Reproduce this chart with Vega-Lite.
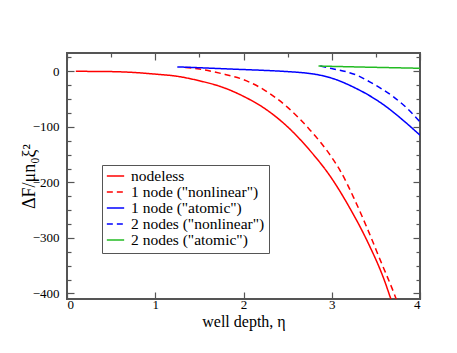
{
  "$schema": "https://vega.github.io/schema/vega-lite/v6.json",
  "width": 353,
  "height": 246,
  "autosize": "none",
  "padding": {"left": 67, "top": 53, "right": 37, "bottom": 54},
  "background": "white",
  "config": {
    "view": {"stroke": "#555555", "strokeWidth": 2},
    "font": "Liberation Serif",
    "axis": {
      "domain": false,
      "grid": false,
      "tickColor": "#555555",
      "tickWidth": 1.2,
      "labelFont": "Liberation Serif",
      "labelFontSize": 13,
      "labelColor": "black",
      "titleFont": "Liberation Serif",
      "titleFontWeight": "normal",
      "titleColor": "black"
    },
    "legend": {"rowPadding": -3, "clipHeight": 14}
  },
  "datasets": {
    "curves": [
      {"series": "nodeless", "eta": 0.1, "F": 0},
      {"series": "nodeless", "eta": 0.5, "F": -0.5},
      {"series": "nodeless", "eta": 0.75, "F": -2},
      {"series": "nodeless", "eta": 1.0, "F": -5},
      {"series": "nodeless", "eta": 1.25, "F": -9},
      {"series": "nodeless", "eta": 1.5, "F": -17},
      {"series": "nodeless", "eta": 1.75, "F": -28},
      {"series": "nodeless", "eta": 2.0, "F": -45},
      {"series": "nodeless", "eta": 2.25, "F": -68},
      {"series": "nodeless", "eta": 2.5, "F": -100},
      {"series": "nodeless", "eta": 2.75, "F": -142},
      {"series": "nodeless", "eta": 3.0, "F": -193},
      {"series": "nodeless", "eta": 3.2, "F": -245},
      {"series": "nodeless", "eta": 3.4, "F": -305},
      {"series": "nodeless", "eta": 3.6, "F": -378},
      {"series": "nodeless", "eta": 3.67, "F": -410},
      {"series": "nodeless", "eta": 3.72, "F": -432},
      {"series": "1 node (\"nonlinear\")", "eta": 1.34, "F": 7},
      {"series": "1 node (\"nonlinear\")", "eta": 1.5, "F": 4},
      {"series": "1 node (\"nonlinear\")", "eta": 1.75, "F": -4},
      {"series": "1 node (\"nonlinear\")", "eta": 2.0, "F": -15},
      {"series": "1 node (\"nonlinear\")", "eta": 2.25, "F": -35},
      {"series": "1 node (\"nonlinear\")", "eta": 2.5, "F": -65},
      {"series": "1 node (\"nonlinear\")", "eta": 2.75, "F": -105},
      {"series": "1 node (\"nonlinear\")", "eta": 3.0, "F": -155},
      {"series": "1 node (\"nonlinear\")", "eta": 3.1, "F": -180},
      {"series": "1 node (\"nonlinear\")", "eta": 3.25, "F": -228},
      {"series": "1 node (\"nonlinear\")", "eta": 3.4, "F": -282},
      {"series": "1 node (\"nonlinear\")", "eta": 3.55, "F": -340},
      {"series": "1 node (\"nonlinear\")", "eta": 3.73, "F": -410},
      {"series": "1 node (\"nonlinear\")", "eta": 3.78, "F": -432},
      {"series": "1 node (\"atomic\")", "eta": 1.25, "F": 8},
      {"series": "1 node (\"atomic\")", "eta": 1.5, "F": 6.5},
      {"series": "1 node (\"atomic\")", "eta": 1.75, "F": 4.8},
      {"series": "1 node (\"atomic\")", "eta": 2.0, "F": 3.2},
      {"series": "1 node (\"atomic\")", "eta": 2.25, "F": 1.6},
      {"series": "1 node (\"atomic\")", "eta": 2.5, "F": -0.5},
      {"series": "1 node (\"atomic\")", "eta": 2.7, "F": -3},
      {"series": "1 node (\"atomic\")", "eta": 2.87, "F": -7},
      {"series": "1 node (\"atomic\")", "eta": 3.05, "F": -15},
      {"series": "1 node (\"atomic\")", "eta": 3.24, "F": -28},
      {"series": "1 node (\"atomic\")", "eta": 3.43, "F": -44},
      {"series": "1 node (\"atomic\")", "eta": 3.62, "F": -64},
      {"series": "1 node (\"atomic\")", "eta": 3.8, "F": -87},
      {"series": "1 node (\"atomic\")", "eta": 4.0, "F": -115},
      {"series": "2 nodes (\"nonlinear\")", "eta": 2.87, "F": 9.5},
      {"series": "2 nodes (\"nonlinear\")", "eta": 3.0, "F": 5},
      {"series": "2 nodes (\"nonlinear\")", "eta": 3.17, "F": -1},
      {"series": "2 nodes (\"nonlinear\")", "eta": 3.3, "F": -8},
      {"series": "2 nodes (\"nonlinear\")", "eta": 3.43, "F": -19},
      {"series": "2 nodes (\"nonlinear\")", "eta": 3.56, "F": -31},
      {"series": "2 nodes (\"nonlinear\")", "eta": 3.7, "F": -46},
      {"series": "2 nodes (\"nonlinear\")", "eta": 3.85, "F": -66},
      {"series": "2 nodes (\"nonlinear\")", "eta": 4.0, "F": -91},
      {"series": "2 nodes (\"atomic\")", "eta": 2.85, "F": 9.5},
      {"series": "2 nodes (\"atomic\")", "eta": 3.4, "F": 7.5},
      {"series": "2 nodes (\"atomic\")", "eta": 4.0, "F": 5.5}
    ]
  },
  "resolve": {"axis": {"x": "independent", "y": "independent"}},
  "layer": [
    {
      "mark": {"type": "rule", "color": "black", "strokeWidth": 1},
      "encoding": {
        "x": {"datum": 0, "type": "quantitative", "scale": {"domain": [0, 4], "nice": false},
          "axis": {"orient": "top", "labels": false, "title": null,
            "values": [0, 0.5, 1, 1.5, 2, 2.5, 3, 3.5, 4],
            "tickSize": {"condition": {"test": "datum.value % 1 === 0", "value": -7}, "value": -4}}},
        "x2": {"datum": 4},
        "y": {"datum": 0, "type": "quantitative", "scale": {"domain": [-410, 33], "nice": false, "zero": false},
          "axis": {"orient": "right", "labels": false, "title": null,
            "values": [-400, -375, -350, -325, -300, -275, -250, -225, -200, -175, -150, -125, -100, -75, -50, -25, 0, 25],
            "tickSize": {"condition": {"test": "datum.value % 100 === 0", "value": -7}, "value": -4}}}
      }
    },
    {
      "data": {"name": "curves"},
      "mark": {"type": "line", "strokeWidth": 1.5, "clip": true, "interpolate": "monotone"},
      "encoding": {
        "x": {"field": "eta", "type": "quantitative", "scale": {"domain": [0, 4], "nice": false},
          "axis": {"orient": "bottom", "title": "well depth, η", "titleFontSize": 16,
            "titleBaseline": "alphabetic", "titleY": 27,
            "values": [0, 0.5, 1, 1.5, 2, 2.5, 3, 3.5, 4],
            "format": "d",
            "labelExpr": "datum.value % 1 === 0 ? datum.label : ''",
            "labelPadding": 6,
            "tickSize": {"condition": {"test": "datum.value % 1 === 0", "value": -7}, "value": -4}}},
        "y": {"field": "F", "type": "quantitative", "scale": {"domain": [-410, 33], "nice": false, "zero": false},
          "axis": {"orient": "left", "title": "ΔF/μn₀ξ²", "titleFontSize": 18,
            "titleAngle": -90, "titleBaseline": "alphabetic", "titleX": -33, "titleY": 123,
            "values": [-400, -375, -350, -325, -300, -275, -250, -225, -200, -175, -150, -125, -100, -75, -50, -25, 0, 25],
            "labelExpr": "datum.value % 100 === 0 ? datum.label : ''",
            "labelPadding": 15,
            "tickSize": {"condition": {"test": "datum.value % 100 === 0", "value": -7}, "value": -4}}},
        "color": {"field": "series", "type": "nominal",
          "scale": {"domain": ["nodeless", "1 node (\"nonlinear\")", "1 node (\"atomic\")", "2 nodes (\"nonlinear\")", "2 nodes (\"atomic\")"],
            "range": ["#ff0000", "#ff0000", "#0000ff", "#0000ff", "#22bb22"]},
          "legend": {"orient": "none", "legendX": 35, "legendY": 112, "title": null,
            "symbolType": "stroke", "symbolSize": 300, "symbolStrokeWidth": 1.5,
            "labelFont": "Liberation Serif", "labelFontSize": 15.5, "labelColor": "black",
            "strokeColor": "#555555", "fillColor": "white", "padding": 4, "rowPadding": -3,
            "clipHeight": 14, "labelOffset": 6}},
        "strokeDash": {"field": "series", "type": "nominal",
          "scale": {"domain": ["nodeless", "1 node (\"nonlinear\")", "1 node (\"atomic\")", "2 nodes (\"nonlinear\")", "2 nodes (\"atomic\")"],
            "range": [[1, 0], [6, 4], [1, 0], [6, 4], [1, 0]]},
          "legend": {"orient": "none", "legendX": 35, "legendY": 112, "title": null,
            "symbolType": "stroke", "symbolSize": 300, "symbolStrokeWidth": 1.5,
            "labelFont": "Liberation Serif", "labelFontSize": 15.5, "labelColor": "black",
            "strokeColor": "#555555", "fillColor": "white", "padding": 4, "rowPadding": -3,
            "clipHeight": 14, "labelOffset": 6}}
      }
    }
  ]
}
